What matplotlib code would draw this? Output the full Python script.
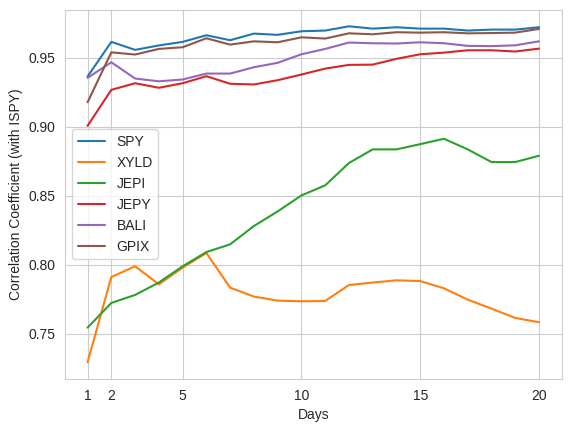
import matplotlib
matplotlib.use("Agg")
import matplotlib.pyplot as plt
import seaborn as sns

days = list(range(1, 21))
spy = [0.9365, 0.9616, 0.9558, 0.9590, 0.9616, 0.9664, 0.9628, 0.9676, 0.9667, 0.9693,
       0.9698, 0.9729, 0.9712, 0.9722, 0.9712, 0.9712, 0.9698, 0.9705, 0.9705, 0.9722]
xyld = [0.7292, 0.7910, 0.7988, 0.7857, 0.7978, 0.8084, 0.7833, 0.7768, 0.7739, 0.7734,
        0.7736, 0.7852, 0.7870, 0.7886, 0.7881, 0.7828, 0.7746, 0.7681, 0.7613, 0.7582]
jepi = [0.7543, 0.7722, 0.7780, 0.7870, 0.7988, 0.8091, 0.8147, 0.8280, 0.8386, 0.8502,
        0.8575, 0.8737, 0.8836, 0.8836, 0.8874, 0.8913, 0.8836, 0.8744, 0.8744, 0.8790]
jepy = [0.9007, 0.9268, 0.9316, 0.9283, 0.9316, 0.9367, 0.9312, 0.9307, 0.9338, 0.9379,
        0.9422, 0.9449, 0.9451, 0.9493, 0.9526, 0.9538, 0.9555, 0.9555, 0.9546, 0.9567]
bali = [0.9355, 0.9468, 0.9350, 0.9330, 0.9343, 0.9386, 0.9386, 0.9432, 0.9464, 0.9526,
        0.9565, 0.9611, 0.9606, 0.9604, 0.9613, 0.9606, 0.9587, 0.9585, 0.9591, 0.9620]
gpix = [0.9178, 0.9540, 0.9524, 0.9565, 0.9577, 0.9642, 0.9596, 0.9620, 0.9613, 0.9649,
        0.9640, 0.9678, 0.9671, 0.9686, 0.9683, 0.9686, 0.9678, 0.9680, 0.9683, 0.9710]

series = {"SPY": spy, "XYLD": xyld, "JEPI": jepi, "JEPY": jepy, "BALI": bali, "GPIX": gpix}
xticks = [1, 2, 5, 10, 15, 20]

sns.set_style("whitegrid")
plt.rcParams["font.family"] = ["Liberation Sans", "DejaVu Sans"]

fig = plt.figure(figsize=(5.7, 4.28), dpi=100)
ax = fig.add_axes([65 / 570, 49 / 428, 496.6 / 570, 369.5 / 428])

for name, vals in series.items():
    ax.plot(days, vals, label=name)

ax.set_xticks(xticks)
ax.set_xlabel("Days")
ax.set_ylabel("Correlation Coefficient (with ISPY)")
ax.legend(loc="center left")

fig.savefig("out.png", dpi=100)
